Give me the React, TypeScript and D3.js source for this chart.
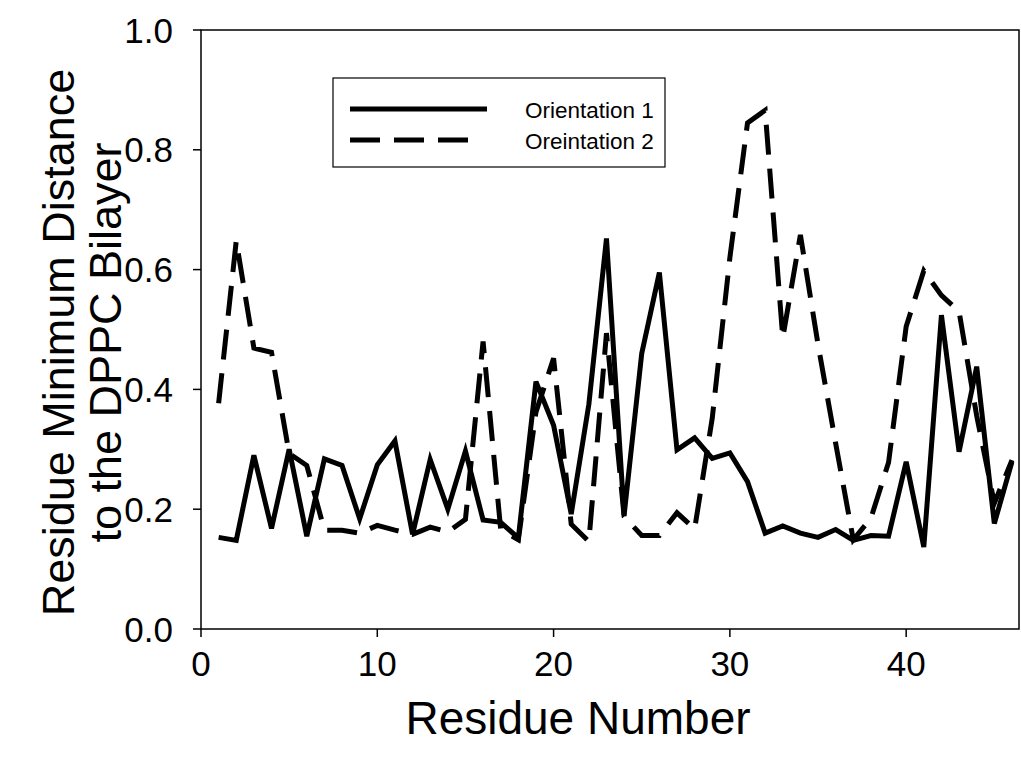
import React from "react";
import * as d3 from "d3";

const residues = [
  1, 2, 3, 4, 5, 6, 7, 8, 9, 10, 11, 12, 13, 14, 15, 16, 17, 18, 19, 20, 21, 22, 23,
  24, 25, 26, 27, 28, 29, 30, 31, 32, 33, 34, 35, 36, 37, 38, 39, 40, 41, 42, 43, 44, 45, 46,
];

const orientation1 = [
  0.153, 0.148, 0.29, 0.168, 0.3, 0.155, 0.284, 0.273, 0.184, 0.274, 0.314, 0.158, 0.283,
  0.2, 0.297, 0.182, 0.178, 0.152, 0.413, 0.34, 0.192, 0.375, 0.652, 0.19, 0.46, 0.595,
  0.299, 0.319, 0.285, 0.294, 0.246, 0.16, 0.172, 0.16, 0.153, 0.166, 0.148, 0.156, 0.155,
  0.279, 0.137, 0.524, 0.296, 0.438, 0.176, 0.279,
];

const orientation2 = [
  0.377, 0.648, 0.469, 0.462, 0.293, 0.273, 0.165, 0.165, 0.16, 0.173, 0.165, 0.158, 0.17,
  0.162, 0.183, 0.48, 0.166, 0.149, 0.362, 0.452, 0.175, 0.146, 0.494, 0.188, 0.156, 0.156,
  0.194, 0.167, 0.352, 0.62, 0.845, 0.866, 0.486, 0.658, 0.475, 0.31, 0.149, 0.185, 0.278,
  0.505, 0.598, 0.557, 0.53, 0.356, 0.21, 0.282,
];

const xTicks = [0, 10, 20, 30, 40];
const yTicks = [0, 0.2, 0.4, 0.6, 0.8, 1.0];

const seriesNames = ["Orientation 1", "Oreintation 2"];
const xTitle = "Residue Number";
const yTitleLines = ["Residue Minimum Distance", "to the DPPC Bilayer"];

const W = 1021;
const H = 765;
const FONT = "'Liberation Sans', Arial, Helvetica, sans-serif";

export default function App() {
  const x = d3.scaleLinear().domain([0, 46.4]).range([201, 1019]);
  const y = d3.scaleLinear().domain([0, 1]).range([629, 30]);

  const line = d3
    .line<[number, number]>()
    .x((d) => x(d[0]))
    .y((d) => y(d[1]));

  const d1 = line(residues.map((r, i) => [r, orientation1[i]] as [number, number])) || "";
  const d2 = line(residues.map((r, i) => [r, orientation2[i]] as [number, number])) || "";

  const [x0, x1] = x.range();
  const [y0, y1] = y.range();
  const fmt = d3.format(".1f");

  return (
    <svg
      width={W}
      height={H}
      style={{ position: "absolute", left: 0, top: 0, background: "#fff" }}
      fontFamily={FONT}
    >
      <rect x={0} y={0} width={W} height={H} fill="#fff" />
      {/* data lines */}
      <path
        d={d2}
        fill="none"
        stroke="#000"
        strokeWidth={5}
        strokeDasharray="30 14"
        strokeLinejoin="miter"
        strokeLinecap="butt"
      />
      <path d={d1} fill="none" stroke="#000" strokeWidth={5} strokeLinejoin="miter" />

      {/* frame */}
      <rect x={x0} y={y1} width={x1 - x0} height={y0 - y1} fill="none" stroke="#000" strokeWidth={1.5} />

      {/* x ticks */}
      {xTicks.map((t) => (
        <g key={"x" + t}>
          <line x1={x(t)} x2={x(t)} y1={y0} y2={y0 + 8} stroke="#000" strokeWidth={1.5} />
          <text x={x(t)} y={y0 + 47} textAnchor="middle" fontSize={35} fill="#000">
            {t}
          </text>
        </g>
      ))}

      {/* y ticks */}
      {yTicks.map((t) => (
        <g key={"y" + t}>
          <line x1={x0 - 8} x2={x0} y1={y(t)} y2={y(t)} stroke="#000" strokeWidth={1.5} />
          <text x={x0 - 28} y={y(t) + 12.5} textAnchor="end" fontSize={35} fill="#000">
            {fmt(t)}
          </text>
        </g>
      ))}

      {/* axis titles */}
      <text x={578} y={734} textAnchor="middle" fontSize={46} fill="#000">
        {xTitle}
      </text>
      <text
        transform={`translate(74, ${(y0 + y1) / 2 + 13}) rotate(-90)`}
        textAnchor="middle"
        fontSize={45}
        fill="#000"
      >
        {yTitleLines[0]}
      </text>
      <text
        transform={`translate(121, ${(y0 + y1) / 2 + 13}) rotate(-90)`}
        textAnchor="middle"
        fontSize={45}
        fill="#000"
      >
        {yTitleLines[1]}
      </text>

      {/* legend */}
      <rect x={333} y={78} width={332} height={89} fill="#fff" stroke="#000" strokeWidth={1.2} />
      <line x1={350} x2={487} y1={109} y2={109} stroke="#000" strokeWidth={5} />
      <line
        x1={350}
        x2={474}
        y1={140}
        y2={140}
        stroke="#000"
        strokeWidth={5}
        strokeDasharray="30 14"
      />
      <text x={525} y={118} fontSize={22.5} fill="#000">
        {seriesNames[0]}
      </text>
      <text x={525} y={149} fontSize={22.5} fill="#000">
        {seriesNames[1]}
      </text>
    </svg>
  );
}
